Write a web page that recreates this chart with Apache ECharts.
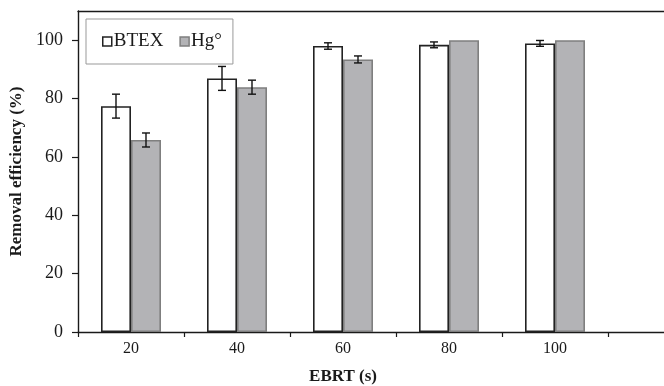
<!DOCTYPE html>
<html>
<head>
<meta charset="utf-8">
<script src="https://cdn.jsdelivr.net/npm/echarts@6/dist/echarts.min.js"></script>
<style>html,body{margin:0;padding:0;background:#fff;}#c{width:664px;height:386px;}</style>
</head>
<body>
<div id="c"></div>
<script>
const categories = ['20', '40', '60', '80', '100'];
const btex = [77.4, 86.9, 98.0, 98.4, 98.9];
const btexErr = [4.1, 4.1, 1.1, 1.0, 1.0];
const hg = [65.8, 83.9, 93.4, 100, 100];
const hgErr = [2.4, 2.4, 1.2, 0, 0];
const yTicks = [0, 20, 40, 60, 80, 100];

const FONT = 'Liberation Serif';
const BAR_W = 30;
const AXIS_C = '#1a1a1a';

function errSeries(vals, errs, side) {
  return {
    type: 'custom',
    xAxisIndex: 0, yAxisIndex: 0,
    data: vals.map((v, i) => [i, v, errs[i]]),
    encode: { x: 0, y: 1 },
    z: 5,
    silent: true,
    renderItem: function (params, api) {
      const i = api.value(0), v = api.value(1), e = api.value(2);
      if (!e) return { type: 'group', children: [] };
      const top = api.coord([i, v + e]);
      const bot = api.coord([i, v - e]);
      const x = top[0] + side * BAR_W / 2;
      const cap = 4;
      const st = { stroke: '#111', lineWidth: 1.4 };
      return {
        type: 'group',
        children: [
          { type: 'line', shape: { x1: x, y1: top[1], x2: x, y2: bot[1] }, style: st },
          { type: 'line', shape: { x1: x - cap, y1: top[1], x2: x + cap, y2: top[1] }, style: st },
          { type: 'line', shape: { x1: x - cap, y1: bot[1], x2: x + cap, y2: bot[1] }, style: st }
        ]
      };
    }
  };
}

const chart = echarts.init(document.getElementById('c'), null, { renderer: 'canvas' });
chart.setOption({
  animation: false,
  backgroundColor: '#fff',
  textStyle: { fontFamily: FONT },
  grid: [
    { left: 78, right: 56, top: 11, bottom: 54, outerBoundsMode: 'none', containLabel: false },
    { left: 78, right: 0, top: 11, bottom: 54, outerBoundsMode: 'none', containLabel: false }
  ],
  legend: {
    left: 86, top: 19,
    orient: 'horizontal',
    padding: [13, 11, 13, 16],
    borderColor: '#999', borderWidth: 1,
    itemWidth: 9, itemHeight: 9, itemGap: 16,
    icon: 'rect',
    textStyle: { fontFamily: FONT, fontSize: 19, color: '#1a1a1a', padding: [0, 0, 0, -3] },
    data: [
      { name: 'BTEX', itemStyle: { color: '#fff', borderColor: '#222', borderWidth: 1.5 } },
      { name: 'Hg°', itemStyle: { color: '#b3b3b6', borderColor: '#7f7f7f', borderWidth: 1.5 } }
    ]
  },
  xAxis: [
    {
      type: 'category', gridIndex: 0, data: categories,
      name: 'EBRT (s)', nameLocation: 'middle', nameGap: 36,
      nameTextStyle: { fontFamily: FONT, fontSize: 17, fontWeight: 'bold', color: '#1a1a1a' },
      axisLine: { show: false },
      axisTick: { show: true, inside: false, length: 5, lineStyle: { color: AXIS_C, width: 1.2 } },
      axisLabel: { fontFamily: FONT, fontSize: 16, color: '#1a1a1a', margin: 9 },
      splitLine: { show: false }
    },
    {
      type: 'value', gridIndex: 1, min: 0, max: 1, position: 'bottom',
      axisLine: { show: true, onZero: false, lineStyle: { color: AXIS_C, width: 1.4 } },
      axisTick: { show: false }, axisLabel: { show: false }, splitLine: { show: false }
    },
    {
      type: 'value', gridIndex: 1, min: 0, max: 1, position: 'top',
      axisLine: { show: true, onZero: false, lineStyle: { color: AXIS_C, width: 1.4 } },
      axisTick: { show: false }, axisLabel: { show: false }, splitLine: { show: false }
    }
  ],
  yAxis: [
    {
      type: 'value', gridIndex: 0, min: 0, max: 110,
      name: 'Removal efficiency (%)', nameLocation: 'middle', nameGap: 44,
      nameTextStyle: { fontFamily: FONT, fontSize: 17, fontWeight: 'bold', color: '#1a1a1a' },
      axisLine: { show: true, lineStyle: { color: AXIS_C, width: 1.4 } },
      axisTick: { show: true, inside: false, length: 6, customValues: yTicks, lineStyle: { color: AXIS_C, width: 1.2 } },
      axisLabel: { fontFamily: FONT, fontSize: 18, color: '#1a1a1a', margin: 15, customValues: yTicks },
      splitLine: { show: false }
    },
    { type: 'value', gridIndex: 1, min: 0, max: 1, show: false }
  ],
  series: [
    {
      name: 'BTEX', type: 'bar', xAxisIndex: 0, yAxisIndex: 0,
      data: btex, barWidth: BAR_W, barGap: '0%',
      itemStyle: { color: '#fff', borderColor: '#222', borderWidth: 1.6 }
    },
    {
      name: 'Hg°', type: 'bar', xAxisIndex: 0, yAxisIndex: 0,
      data: hg, barWidth: BAR_W, barGap: '0%',
      itemStyle: { color: '#b3b3b6', borderColor: '#7f7f7f', borderWidth: 1.6 }
    },
    errSeries(btex, btexErr, -1),
    errSeries(hg, hgErr, 1)
  ]
});
</script>
</body>
</html>
